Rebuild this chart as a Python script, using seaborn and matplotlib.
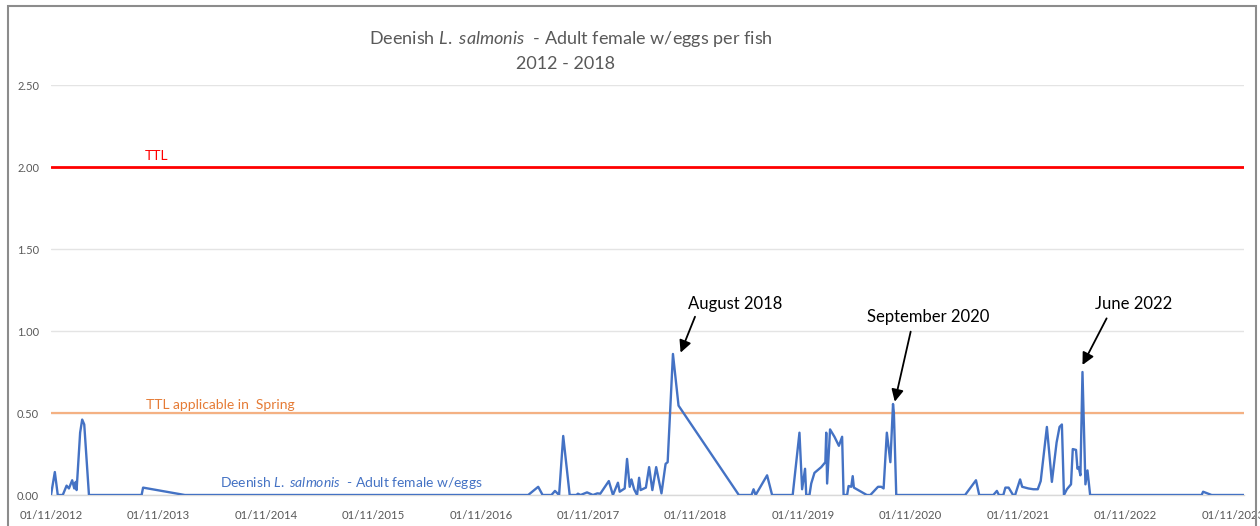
import matplotlib
matplotlib.use("Agg")
import numpy as np
import pandas as pd
import seaborn as sns
import matplotlib.pyplot as plt
from matplotlib.patches import Rectangle

# ---------------- data ----------------
dates = [
    "2012-11-01", "2012-11-14", "2012-11-24", "2012-12-11", "2012-12-24", "2013-01-01",
    "2013-01-12", "2013-01-19", "2013-01-24", "2013-01-27", "2013-02-08", "2013-02-15",
    "2013-02-22", "2013-03-10",
    "2013-09-05", "2013-09-10", "2014-01-30",
    "2017-04-11", "2017-05-15", "2017-05-30", "2017-06-29", "2017-07-11", "2017-07-25",
    "2017-08-08", "2017-08-30", "2017-09-22", "2017-09-27", "2017-10-06", "2017-10-28",
    "2017-11-17", "2017-12-02", "2017-12-12", "2018-01-10", "2018-01-24", "2018-02-10",
    "2018-02-16", "2018-03-05", "2018-03-13", "2018-03-22", "2018-03-28", "2018-04-06",
    "2018-04-16", "2018-04-23", "2018-04-28", "2018-05-16", "2018-05-27", "2018-06-07",
    "2018-06-20", "2018-07-08", "2018-07-22", "2018-07-29", "2018-08-16", "2018-09-04",
    "2019-03-28", "2019-05-10", "2019-05-17", "2019-05-24", "2019-07-02", "2019-07-19",
    "2019-09-27", "2019-10-20", "2019-10-29", "2019-11-08", "2019-11-12", "2019-11-23",
    "2019-11-29", "2019-12-10", "2020-01-02", "2020-01-16", "2020-01-19", "2020-01-22",
    "2020-02-01", "2020-02-16", "2020-03-02", "2020-03-13", "2020-03-18", "2020-03-30",
    "2020-04-04", "2020-04-13", "2020-04-18", "2020-04-22", "2020-06-05", "2020-06-17",
    "2020-07-13", "2020-07-24", "2020-08-01", "2020-08-12", "2020-08-24", "2020-09-02",
    "2020-09-05", "2020-09-13",
    "2021-05-05", "2021-06-11", "2021-06-22", "2021-08-09", "2021-08-21", "2021-08-28",
    "2021-09-12", "2021-09-19", "2021-09-30", "2021-10-15", "2021-10-22", "2021-11-08",
    "2021-11-15", "2021-12-06", "2021-12-23", "2022-01-07", "2022-01-17", "2022-02-07",
    "2022-02-24", "2022-03-12", "2022-03-22", "2022-03-30", "2022-04-06", "2022-04-16",
    "2022-04-30", "2022-05-06", "2022-05-17", "2022-05-22", "2022-05-26", "2022-06-01",
    "2022-06-08", "2022-06-18", "2022-06-25", "2022-07-04",
    "2023-07-18", "2023-07-23", "2023-08-21", "2023-12-09",
]
females_per_fish = [
    0, 0.14, 0, 0, 0.057, 0.04, 0.09, 0.04, 0.08, 0.03, 0.38, 0.46, 0.43, 0,
    0, 0.045, 0,
    0, 0.05, 0, 0, 0.025, 0, 0.36, 0, 0, 0.008, 0, 0.016, 0, 0.01, 0.008, 0.085, 0,
    0.075, 0.02, 0.04, 0.22, 0.05, 0.095, 0.035, 0, 0.105, 0.03, 0.045, 0.17, 0.03,
    0.17, 0.01, 0.19, 0.2, 0.86, 0.545,
    0, 0, 0.035, 0, 0.12, 0, 0, 0.38, 0.035, 0.16, 0, 0, 0.07, 0.135, 0.17, 0.2, 0.38,
    0.07, 0.40, 0.355, 0.30, 0.355, 0, 0, 0.055, 0.05, 0.115, 0.045, 0, 0, 0.05, 0.05,
    0.04, 0.38, 0.2, 0.555, 0.5, 0,
    0, 0.09, 0, 0, 0.025, 0, 0, 0.045, 0.045, 0, 0, 0.095, 0.05, 0.04, 0.035, 0.035,
    0.085, 0.415, 0.08, 0.32, 0.415, 0.43, 0, 0.035, 0.065, 0.28, 0.275, 0.16, 0.17,
    0.12, 0.75, 0.065, 0.15, 0,
    0, 0.02, 0, 0,
]
ttl_value = 2.0
ttl_spring_value = 0.5
y_ticks = [0.0, 0.5, 1.0, 1.5, 2.0, 2.5]
x_tick_dates = ["2012-11-01", "2013-11-01", "2014-11-01", "2015-11-01", "2016-11-01",
                "2017-11-01", "2018-11-01", "2019-11-01", "2020-11-01", "2021-11-01",
                "2022-11-01", "2023-11-01"]
x_tick_labels = ["01/11/2012", "01/11/2013", "01/11/2014", "01/11/2015", "01/11/2016",
                 "01/11/2017", "01/11/2018", "01/11/2019", "01/11/2020", "01/11/2021",
                 "01/11/2022", "01/11/2023"]
x_range = ["2012-11-01", "2023-12-09"]

# ---------------- style ----------------
sns.set_theme(style="white")
plt.rcParams["font.family"] = ["Lato", "DejaVu Sans"]
plt.rcParams["mathtext.fontset"] = "custom"
plt.rcParams["mathtext.rm"] = "Lato"
plt.rcParams["mathtext.it"] = "Lato:italic"

W, H = 1260, 526
fig = plt.figure(figsize=(W / 100, H / 100), dpi=100)
fig.patch.set_facecolor("white")
ax = fig.add_axes([51 / W, 31 / H, (1244 - 51) / W, (495 - 85) / H])

df = pd.DataFrame({"date": pd.to_datetime(dates), "value": females_per_fish})
sns.lineplot(data=df, x="date", y="value", ax=ax, color="#4472C4", linewidth=1.7, zorder=3)

ax.axhline(ttl_value, color="#FF0000", linewidth=2.0, zorder=2)
ax.axhline(ttl_spring_value, color="#F4B183", linewidth=1.6, zorder=2)

ax.set_xlim(pd.Timestamp(x_range[0]), pd.Timestamp(x_range[1]))
ax.set_ylim(0, 2.5)
ax.set_yticks(y_ticks)
ax.set_yticklabels([f"{v:.2f}" for v in y_ticks])
ax.set_xticks(pd.to_datetime(x_tick_dates))
ax.set_xticklabels(x_tick_labels)
ax.set_xlabel("")
ax.set_ylabel("")

ax.yaxis.grid(True, color="#e4e4e4", linewidth=1.0)
ax.xaxis.grid(False)
ax.set_axisbelow(True)
for s in ["top", "right", "left"]:
    ax.spines[s].set_visible(False)
ax.spines["bottom"].set_color("#d9d9d9")
ax.spines["bottom"].set_linewidth(1.0)

ax.tick_params(axis="y", length=0, pad=8.5, labelsize=8, labelcolor="#595959")
ax.tick_params(axis="x", length=3, width=1, color="#d9d9d9", pad=8,
               labelsize=8.2, labelcolor="#595959", direction="out")

# in-plot labels
def d(s):
    return pd.Timestamp(s)

ax.text(d("2013-10-27"), 2.067, "TTL", color="#FF0000", fontsize=10,
        ha="center", va="center")
ax.text(d("2014-06-01"), 0.549, "TTL applicable in  Spring", color="#E57B35",
        fontsize=10, ha="center", va="center")
ax.text(d("2015-08-18"), 0.073,
        r"Deenish $\mathit{L.\ salmonis}$  - Adult female w/eggs",
        color="#4472C4", fontsize=10, ha="center", va="center")

# annotations
arrow = dict(arrowstyle="-|>", color="black", lw=1.3, mutation_scale=18,
             shrinkA=0, shrinkB=0)
ax.annotate("", xy=(d("2018-09-11"), 0.868), xytext=(d("2018-10-30"), 1.087),
            arrowprops=arrow)
ax.annotate("", xy=(d("2020-09-08"), 0.569), xytext=(d("2020-11-01"), 0.996),
            arrowprops=arrow)
ax.annotate("", xy=(d("2022-06-08"), 0.793), xytext=(d("2022-08-29"), 1.077),
            arrowprops=arrow)
ax.text(d("2019-03-17"), 1.165, "August 2018", fontsize=12, color="black",
        ha="center", va="center")
ax.text(d("2021-01-01"), 1.085, "September 2020", fontsize=12, color="black",
        ha="center", va="center")
ax.text(d("2022-11-30"), 1.165, "June 2022", fontsize=12, color="black",
        ha="center", va="center")

# title
fig.text(571 / W, 1 - 39 / H,
         r"Deenish $\mathit{L.\ salmonis}$  - Adult female w/eggs per fish",
         fontsize=13, color="#595959", ha="center", va="center")
fig.text(565 / W, 1 - 64 / H, "2012 - 2018", fontsize=13, color="#595959",
         ha="center", va="center")

# chart frame
fig.add_artist(Rectangle((8 / W, -0.05), (1256 - 8) / W, 1.05 - 6 / H,
                         transform=fig.transFigure, fill=False,
                         edgecolor="#8c8c8c", linewidth=1.5))

fig.savefig("out.png", dpi=100, facecolor="white")
